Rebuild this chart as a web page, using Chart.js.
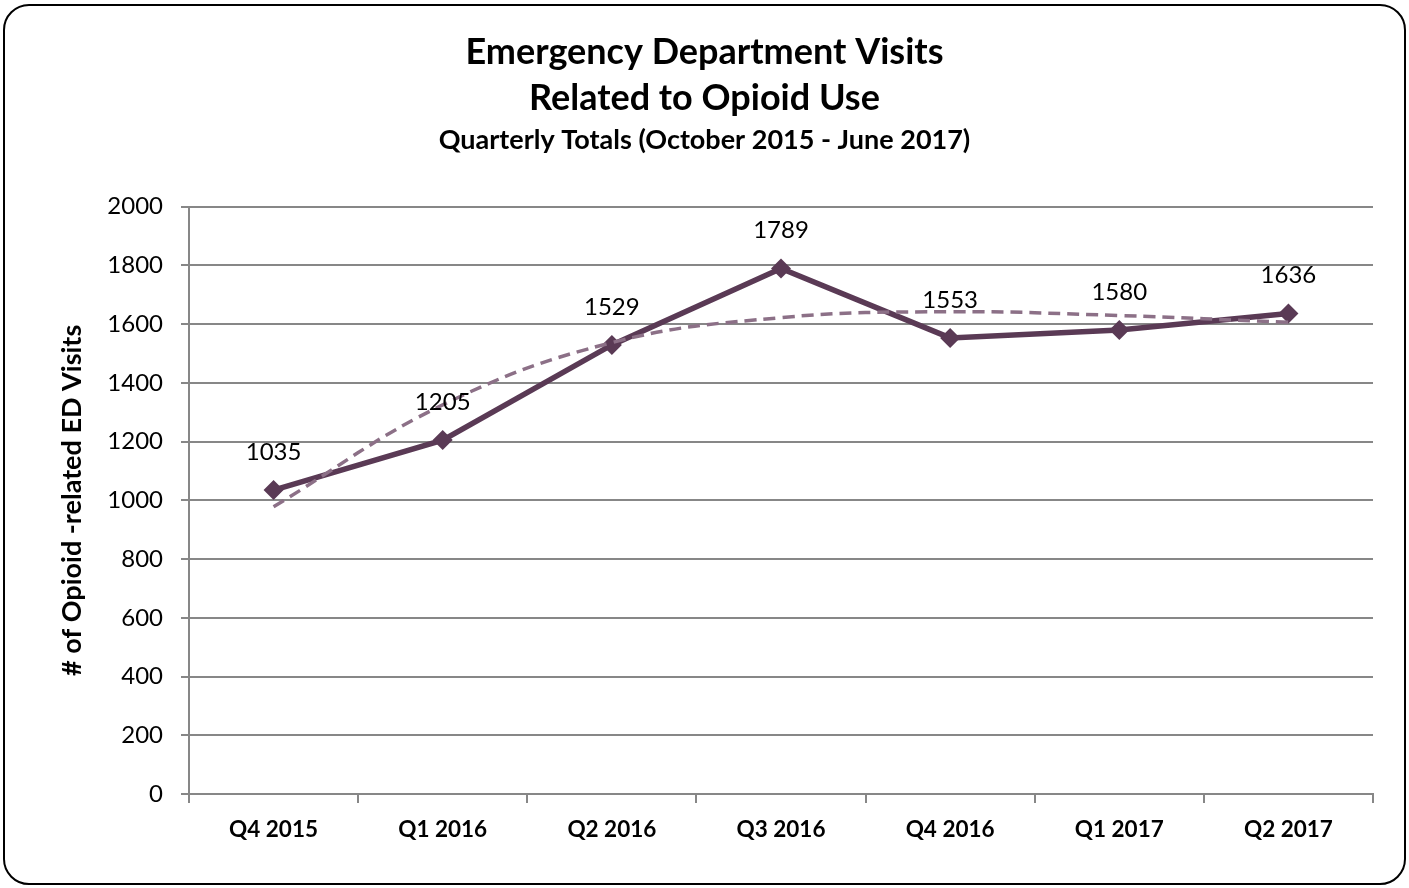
<!DOCTYPE html>
<html>
<head>
<meta charset="utf-8">
<title>Emergency Department Visits Related to Opioid Use</title>
<script src="https://cdn.jsdelivr.net/npm/chart.js@4.4.1/dist/chart.umd.min.js"></script>
<style>
    html, body { margin: 0; padding: 0; background: #fff; }
    #wrap { position: relative; width: 1409px; height: 888px; }
    #frame {
        position: absolute; left: 3px; top: 4px; width: 1399px; height: 877px;
        border: 2px solid #000; border-radius: 26px; pointer-events: none;
    }
    canvas { position: absolute; left: 0; top: 0; }
</style>
</head>
<body>
<div id="wrap">
    <canvas id="edVisits" width="1409" height="888"></canvas>
    <div id="frame"></div>
</div>
<script>
    // Quarterly totals
    const quarters = ['Q4 2015', 'Q1 2016', 'Q2 2016', 'Q3 2016', 'Q4 2016', 'Q1 2017', 'Q2 2017'];
    const visits = [1035, 1205, 1529, 1789, 1553, 1580, 1636];
    // Trend line (polynomial fit as drawn)
    const trend = [978, 1325, 1537, 1622, 1642, 1629, 1606];
    const yTicks = [0, 200, 400, 600, 800, 1000, 1200, 1400, 1600, 1800, 2000];

    const fontFamily = 'Lato, "Open Sans", sans-serif';
    const gridColor = '#878787';

    // Value labels above each point of the main series
    const valueLabels = {
        id: 'valueLabels',
        afterDatasetsDraw(chart) {
            const ctx = chart.ctx;
            const meta = chart.getDatasetMeta(0);
            ctx.save();
            ctx.font = '24px ' + fontFamily;
            ctx.fillStyle = '#000';
            ctx.textAlign = 'center';
            ctx.textBaseline = 'middle';
            meta.data.forEach(function(pt, i) {
                ctx.fillText(String(visits[i]), pt.x, pt.y - 38);
            });
            ctx.restore();
        }
    };

    function graph() {
        const ctx = document.getElementById('edVisits').getContext('2d');
        new Chart(ctx, {
            type: 'line',
            data: {
                labels: quarters,
                datasets: [{
                    label: 'ED Visits',
                    data: visits,
                    borderColor: '#5A3A55',
                    backgroundColor: '#5A3A55',
                    borderWidth: 5.5,
                    pointStyle: 'rectRot',
                    pointRadius: 10,
                    pointBorderWidth: 0,
                    tension: 0,
                    order: 2
                }, {
                    label: 'Trend',
                    data: trend,
                    borderColor: '#8C7087',
                    borderWidth: 3.5,
                    borderDash: [12, 7],
                    pointRadius: 0,
                    tension: 0.4,
                    order: 1
                }]
            },
            options: {
                responsive: false,
                animation: false,
                layout: {
                    padding: { top: 5, left: 36, right: 36, bottom: 4 }
                },
                plugins: {
                    legend: { display: false },
                    tooltip: { enabled: false },
                    title: {
                        display: true,
                        text: ['Emergency Department Visits', 'Related to Opioid Use'],
                        color: '#000',
                        font: { family: fontFamily, size: 36, weight: 'bold', lineHeight: 1.3 },
                        padding: { top: 23.5, bottom: 0 }
                    },
                    subtitle: {
                        display: true,
                        text: 'Quarterly Totals (October 2015 - June 2017)',
                        color: '#000',
                        font: { family: fontFamily, size: 27, weight: 'bold', lineHeight: 1.2 },
                        padding: { top: 2.3, bottom: 49.8 }
                    }
                },
                scales: {
                    x: {
                        offset: true,
                        grid: {
                            offset: true,
                            drawOnChartArea: false,
                            color: gridColor,
                            lineWidth: 2,
                            tickLength: 9
                        },
                        border: { color: gridColor, width: 2 },
                        ticks: {
                            color: '#000',
                            padding: 13,
                            font: { family: fontFamily, size: 22.5, weight: 'bold' }
                        },
                        afterFit(scale) { scale.height = 90; }
                    },
                    y: {
                        min: 0,
                        max: 2000,
                        afterBuildTicks(scale) {
                            scale.ticks = yTicks.map(function(v) { return { value: v }; });
                        },
                        grid: {
                            color: gridColor,
                            lineWidth: 2,
                            tickLength: 8
                        },
                        border: { color: gridColor, width: 2 },
                        ticks: {
                            color: '#000',
                            padding: 18,
                            font: { family: fontFamily, size: 24 },
                            callback: function(value) { return String(value); }
                        },
                        title: {
                            display: true,
                            text: '# of Opioid -related ED Visits',
                            color: '#000',
                            font: { family: fontFamily, size: 27, weight: 'bold', lineHeight: 1.2 },
                            padding: { top: 19.8, bottom: 0 }
                        },
                        afterFit(scale) { scale.width = 153; }
                    }
                }
            },
            plugins: [valueLabels]
        });
    }

    document.addEventListener('DOMContentLoaded', function() {
        graph();
    });
</script>
</body>
</html>
